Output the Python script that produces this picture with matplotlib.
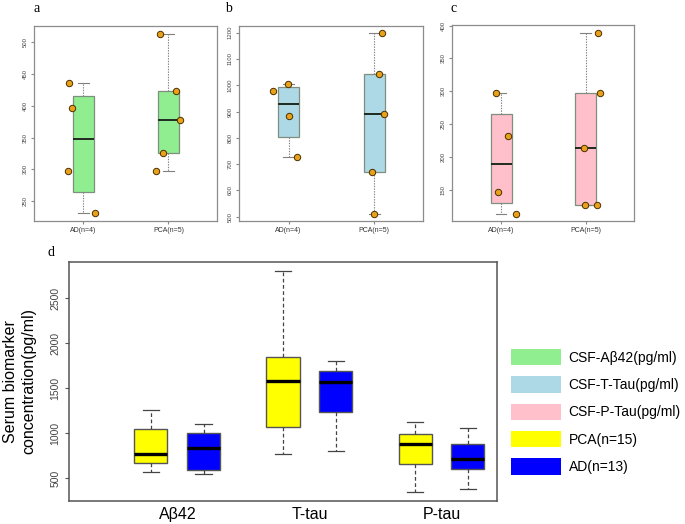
import matplotlib.pyplot as plt
from matplotlib.patches import Patch
import numpy as np

plt.rcParams['font.family'] = ['Liberation Sans', 'DejaVu Sans']

groups = ['AD(n=4)', 'PCA(n=5)']

# CSF values per patient
abeta_ad = [435, 396, 298, 231]
abeta_pca = [513, 423, 378, 326, 298]
ttau_ad = [978, 1006, 882, 726]
ttau_pca = [1200, 1043, 891, 672, 511]
ptau_ad = [298, 232, 146, 113]
ptau_pca = [389, 298, 213, 126, 127]

# horizontal jitter of the dots
jit_abeta = [[-0.17, -0.135, -0.18, 0.135], [-0.094, 0.084, 0.139, -0.061, -0.149]]
jit_ttau = [[-0.18, -0.01, 0.0, 0.10], [0.087, 0.058, 0.112, -0.025, 0.0]]
jit_ptau = [[-0.055, 0.085, -0.033, 0.18], [0.14, 0.168, -0.025, -0.008, 0.13]]

# serum summary: whisker low, q1, median, q3, whisker high
markers = ['A\u03b242', 'T-tau', 'P-tau']
serum_pca = [[567, 673, 770, 1044, 1259],
             [773, 1067, 1581, 1851, 2800],
             [348, 662, 884, 989, 1129]]
serum_ad = [[551, 592, 837, 1003, 1103],
            [800, 1237, 1567, 1685, 1796],
            [378, 600, 718, 878, 1062]]

legend_labels = ['CSF-A\u03b242(pg/ml)', 'CSF-T-Tau(pg/ml)', 'CSF-P-Tau(pg/ml)',
                 'PCA(n=15)', 'AD(n=13)']
legend_colors = ['#90EE90', '#ADD8E6', '#FFC0CB', '#FFFF00', '#0000FF']


def fivenum(v):
    v = np.sort(np.asarray(v, dtype=float))
    n = len(v)
    n4 = np.floor((n + 3) / 2) / 2
    d = np.array([1, n4, (n + 1) / 2, n + 1 - n4, n]) - 1
    return 0.5 * (v[np.floor(d).astype(int)] + v[np.ceil(d).astype(int)])


W, H = 685, 524
fig = plt.figure(figsize=(W / 100, H / 100), dpi=100)


def frac(l, t, r, b):
    return [l / W, 1 - b / H, (r - l) / W, (b - t) / H]


def small_panel(rect, data, jit, color, ylim, yticks, letter, lx):
    ax = fig.add_axes(frac(*rect))
    stats = []
    for v in data:
        f = fivenum(v)
        stats.append(dict(whislo=f[0], q1=f[1], med=f[2], q3=f[3], whishi=f[4], fliers=[]))
    ax.bxp(stats, positions=[1, 2], widths=0.25, patch_artist=True,
           boxprops=dict(facecolor=color, edgecolor='#7f8f7f', lw=0.9),
           medianprops=dict(color='#1f2a1f', lw=1.4),
           whiskerprops=dict(color='#808080', lw=0.8, ls=(0, (1.2, 1.2))),
           capprops=dict(color='#808080', lw=0.8))
    for i, (v, j) in enumerate(zip(data, jit)):
        ax.plot(np.array(j) + i + 1, v, 'o', ms=4.6, mfc='#E9A11B', mec='#4a3000',
                mew=0.7, zorder=5)
    ax.set_xlim(0.42, 2.57)
    ax.set_ylim(*ylim)
    ax.set_yticks(yticks)
    ax.set_xticks([1, 2])
    ax.set_xticklabels(groups, fontsize=5, color='#333333')
    ax.tick_params(axis='y', labelsize=4.3, labelcolor='#444444', rotation=90,
                   length=2.5, color='#888888', pad=2)
    ax.tick_params(axis='x', length=2.5, color='#888888', pad=2)
    for lab in ax.get_yticklabels():
        lab.set_va('center')
    for s in ax.spines.values():
        s.set_color('#8c8c8c')
        s.set_linewidth(0.9)
    fig.text(lx / W, 1 - 8 / H, letter, fontsize=10, family='Liberation Serif',
             ha='center', va='center')
    return ax


small_panel((34, 26, 217, 221), [abeta_ad, abeta_pca], jit_abeta, '#90EE90',
            (219, 525), [250, 300, 350, 400, 450, 500], 'a', 37)
small_panel((239, 26, 423, 221), [ttau_ad, ttau_pca], jit_ttau, '#ADD8E6',
            (484, 1225), [500, 600, 700, 800, 900, 1000, 1100, 1200], 'b', 228)
small_panel((452, 25, 634, 221), [ptau_ad, ptau_pca], jit_ptau, '#FFC0CB',
            (102, 401), [150, 200, 250, 300, 350, 400], 'c', 454)

# panel d
ax = fig.add_axes(frac(69, 262, 497, 501))
pos = np.arange(1, len(markers) + 1)
for summ, off, col in [(serum_pca, -0.2, '#FFFF00'), (serum_ad, 0.2, '#0000FF')]:
    stats = [dict(whislo=s[0], q1=s[1], med=s[2], q3=s[3], whishi=s[4], fliers=[])
             for s in summ]
    ax.bxp(stats, positions=pos + off, widths=0.25, patch_artist=True,
           boxprops=dict(facecolor=col, edgecolor='#555555', lw=1.0),
           medianprops=dict(color='black', lw=2.4),
           whiskerprops=dict(color='#444444', lw=0.9, ls=(0, (3, 2))),
           capprops=dict(color='#444444', lw=0.9))
ax.set_xlim(0.18, 3.42)
ax.set_ylim(248, 2900)
ax.set_xticks(pos)
ax.set_xticklabels(markers, fontsize=11.5)
ax.tick_params(axis='x', length=0, pad=4)
ax.set_yticks([500, 1000, 1500, 2000, 2500])
ax.tick_params(axis='y', labelsize=7.5, labelcolor='#444444', rotation=90,
               length=3, color='#555555', pad=3)
for lab in ax.get_yticklabels():
    lab.set_va('center')
for s in ax.spines.values():
    s.set_color('#555555')
    s.set_linewidth(1.1)
ax.set_ylabel('Serum biomarker\nconcentration(pg/ml)', fontsize=11.5, linespacing=1.25)
ax.yaxis.set_label_coords(-33 / 428, 0.5)
fig.text(51 / W, 1 - 253 / H, 'd', fontsize=10, family='Liberation Serif',
         ha='center', va='center')

handles = [Patch(facecolor=c, edgecolor='none') for c in legend_colors]
fig.legend(handles, legend_labels, loc='upper left',
           bbox_to_anchor=(511 / W, 1 - 349 / H), frameon=False, fontsize=10,
           handlelength=3.6, handleheight=1.45, handletextpad=0.55,
           labelspacing=0.78, borderpad=0, borderaxespad=0)

fig.savefig('out.png', dpi=100)
